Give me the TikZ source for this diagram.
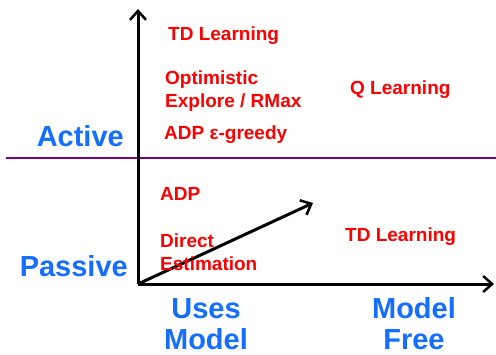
\documentclass[tikz,border=0pt]{standalone}
\usepackage{fontspec}
\setmainfont{Liberation Sans}
\usetikzlibrary{arrows.meta}

\definecolor{axisblue}{RGB}{20,110,255}
\definecolor{splitpurple}{RGB}{128,0,128}

\begin{document}
\begin{tikzpicture}[x=1pt, y=-1pt,
    method/.style={text=red, font=\bfseries\fontsize{19}{23}\selectfont, anchor=base west, inner sep=0pt, align=left},
    axislabel/.style={text=axisblue, font=\bfseries\fontsize{29}{31}\selectfont, inner sep=0pt, align=center},
    axis/.style={line width=3pt, -{Straight Barb[length=9pt, width=16pt, line width=2.5pt]}}]
    \useasboundingbox (0,0) rectangle (496,354);

    % axes and the active / passive split
    \coordinate (origin) at (138,284);
    \coordinate (ytop) at (138,9);
    \coordinate (xend) at (494,284);
    \coordinate (diag) at (313,203);
    \coordinate (splitL) at (6,158);
    \coordinate (splitR) at (496,158);
    \draw[splitpurple, line width=1.5pt] (splitL) -- (splitR);
    \draw[axis] (origin) -- (ytop);
    \draw[axis] (origin) -- (xend);
    \draw[axis] (origin) -- (diag);

    % axis labels (base = last line)
    \node[axislabel, anchor=base east] (active) at (124,146) {Active};
    \node[axislabel, anchor=base east] (passive) at (128,276) {Passive};
    \node[axislabel, anchor=base] (usesmodel) at (206,349) {Uses\\Model};
    \node[axislabel, anchor=base] (modelfree) at (414,349) {Model\\Free};

    % methods, active half
    \node[method] (tdactive) at (168,40) {TD Learning};
    \node[method] (optimistic) at (165,107) {Optimistic\\Explore / RMax};
    \node[method] (adpgreedy) at (164,139) {ADP ε-greedy};
    \node[method] (qlearning) at (350,94) {Q Learning};

    % methods, passive half
    \node[method] (adp) at (160,200) {ADP};
    \node[method] (direct) at (160,270) {Direct\\Estimation};
    \node[method] (tdpassive) at (345,241) {TD Learning};
\end{tikzpicture}
\end{document}
